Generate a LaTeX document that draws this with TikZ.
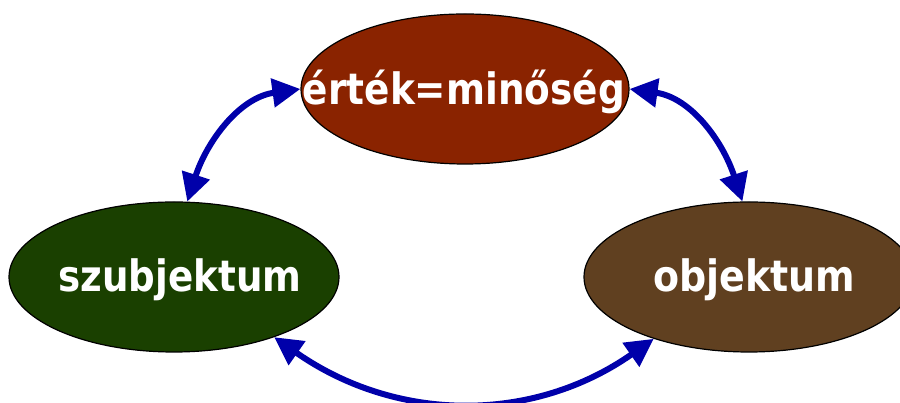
\documentclass[tikz,border=0pt]{standalone}
\usepackage{fontspec}
\setmainfont{DejaVu Sans}
\usetikzlibrary{shapes.geometric,arrows.meta}
\definecolor{topfill}{HTML}{8A2300}
\definecolor{leftfill}{HTML}{1A4000}
\definecolor{rightfill}{HTML}{604020}
\definecolor{arrowblue}{HTML}{0000AA}
\newcommand{\fitw}[2]{\resizebox{#1}{1.08\height}{#2}}
\tikzset{
  blob/.style={ellipse, draw=black, line width=1.2pt, minimum width=330pt, minimum height=150pt,
    inner sep=0pt},
  blobtext/.style={inner sep=0pt, text=white, font=\fontsize{40}{40}\selectfont\bfseries,
    anchor=base},
  link/.style={draw=arrowblue, line width=6pt, {Triangle[length=28pt,width=28pt]}-{Triangle[length=28pt,width=28pt]}}
}
\begin{document}
\begin{tikzpicture}[x=1pt,y=1pt]
\useasboundingbox (0,0) rectangle (900,403);
\node[blob, fill=topfill, minimum width=328pt] (top) at (465,314) {};
\node[blob, fill=leftfill] (left) at (174,126) {};
\node[blob, fill=rightfill] (right) at (749,126) {};
\node[blobtext] (toptext) at (464,298) {\fitw{322pt}{érték=minőség}};
\node[blobtext] (lefttext) at (180,111) {\fitw{243pt}{szubjektum}};
\node[blobtext] (righttext) at (754,111) {\fitw{202pt}{objektum}};
\draw[link] (top.west) to[out=188, in=72] (left.80);
\draw[link] (top.east) to[out=-8, in=108] (right.95);
\draw[link] (left.-31) to[out=-35, in=215] (right.213);
\end{tikzpicture}
\end{document}
